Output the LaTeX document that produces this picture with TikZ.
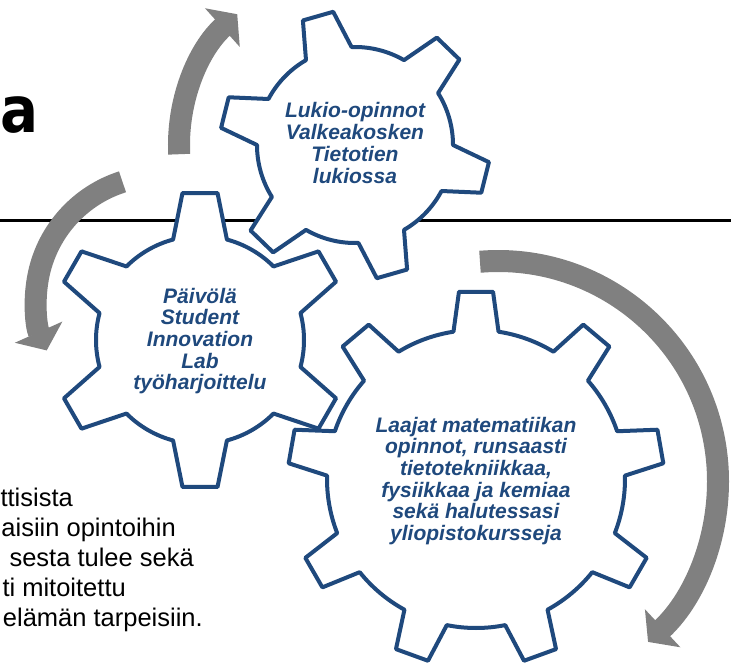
\documentclass[tikz,border=0pt]{standalone}
\usepackage{fontspec}
\setmainfont{Liberation Sans}
\newfontfamily\headfont{DejaVu Sans}
\usetikzlibrary{arrows.meta}

\definecolor{gearblue}{RGB}{31,73,125}
\definecolor{turngray}{RGB}{128,128,128}

% gear outline: centre, teeth, root radius, tip radius,
% angle of first tooth, half width at root, half width at tip
\newcommand{\drawgear}[7]{%
  \draw[gear, shift={(#1)}] (#5-#6:#3)
    \foreach \k [evaluate=\k as \toothang using {#5+(\k-1)*360/#2}] in {1,...,#2} {
      -- (\toothang-#7:#4) -- (\toothang+#7:#4) -- (\toothang+#6:#3)
      arc[start angle=\toothang+#6, end angle=\toothang+360/#2-#6, radius=#3]
    } -- cycle;
}

\begin{document}
\begin{tikzpicture}[x=1pt, y=-1pt,
  gear/.style={draw=gearblue, line width=4pt, line join=round, fill=white},
  gtext/.style={text=gearblue, align=center, inner sep=0pt,
    font=\fontsize{21}{21.7}\selectfont\bfseries\itshape},
  para/.style={anchor=base east, inner sep=0pt,
    font=\fontsize{25.5}{30}\selectfont},
  turn/.style={draw=turngray, line width=22pt,
    -{Triangle[length=20pt, width=51pt]}}
]
  \useasboundingbox (0,0) rectangle (731,672);
  \clip (0,0) rectangle (731,672);

  \node[anchor=base west, inner sep=0pt, xscale=0.88,
    font=\headfont\bfseries\fontsize{64}{64}\selectfont] (title) at (0.5,132) {a};
  \draw[line width=3pt] (0,220) -- (731,220);

  % gear centres
  \coordinate (g1) at (355,145);
  \coordinate (g2) at (200,340);
  \coordinate (g3) at (476,479);

  \drawgear{g3}{9}{149}{188}{-90}{8.7}{5.2}
  \drawgear{g2}{6}{104}{148}{-90}{15}{6.8}
  \drawgear{g1}{6}{98}{135}{-106}{14}{6.7}

  \node[gtext] (lukio) at (355,143)
    {Lukio-opinnot\\Valkeakosken\\Tietotien\\lukiossa};
  \node[gtext] (paivola) at (200,341)
    {Päivölä\\Student\\Innovation\\Lab\\työharjoittelu};
  \node[gtext] (laajat) at (476,481)
    {Laajat matematiikan\\opinnot, runsaasti\\tietotekniikkaa,\\fysiikkaa ja kemiaa\\sekä halutessasi\\yliopistokursseja};

  % turning arrows
  \coordinate (t2) at (160,300);
  \coordinate (t3) at (498,481);
  \draw[turn] ([shift={(-183:176)}]g1)
    arc[start angle=-183, end angle=-132, radius=176];
  \draw[turn] ([shift={(-107.6:124)}]t2)
    arc[start angle=-107.6, end angle=-204, radius=124];
  \draw[turn] ([shift={(-94.7:220)}]t3)
    arc[start angle=-94.7, end angle=47, radius=220];

  \node[para] (line1) at (73,506) {ttisista};
  \node[para] (line2) at (176,536) {aisiin opintoihin};
  \node[para] (line3) at (194,566) {sesta tulee sekä};
  \node[para] (line4) at (126,596) {ti mitoitettu};
  \node[para] (line5) at (203,626) {elämän tarpeisiin.};
\end{tikzpicture}
\end{document}
